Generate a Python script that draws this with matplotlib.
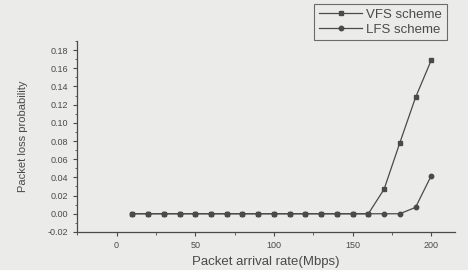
import matplotlib.pyplot as plt
from matplotlib.ticker import MultipleLocator

plt.rcParams['font.family'] = ['Liberation Sans', 'DejaVu Sans']

# data
rate = [10, 20, 30, 40, 50, 60, 70, 80, 90, 100,
        110, 120, 130, 140, 150, 160, 170, 180, 190, 200]
vfs = [0, 0, 0, 0, 0, 0, 0, 0, 0, 0,
       0, 0, 0, 0, 0, 0, 0.027, 0.078, 0.128, 0.169]
lfs = [0, 0, 0, 0, 0, 0, 0, 0, 0, 0,
       0, 0, 0, 0, 0, 0, 0, 0, 0.007, 0.042]

bg = '#ebebe9'
ink = '#4a4a4a'

fig = plt.figure(figsize=(4.68, 2.7), dpi=100, facecolor=bg)
ax = fig.add_axes([0.165, 0.141, 0.807, 0.707], facecolor=bg)

ax.plot(rate, vfs, color=ink, lw=0.9, marker='s', ms=3.4, label='VFS scheme')
ax.plot(rate, lfs, color=ink, lw=0.9, marker='o', ms=3.2, label='LFS scheme')

ax.set_xlim(-25, 215)
ax.set_ylim(-0.02, 0.19)
ax.xaxis.set_major_locator(MultipleLocator(50))
ax.xaxis.set_minor_locator(MultipleLocator(25))
ax.yaxis.set_major_locator(MultipleLocator(0.02))
ax.yaxis.set_minor_locator(MultipleLocator(0.01))
ax.yaxis.set_major_formatter(lambda v, p: f'{v:.2f}')

for s in ['top', 'right']:
    ax.spines[s].set_visible(False)
for s in ['left', 'bottom']:
    ax.spines[s].set_color(ink)
    ax.spines[s].set_linewidth(0.9)

ax.tick_params(which='major', length=3, width=0.8, color=ink, labelcolor=ink, labelsize=6.5)
ax.tick_params(which='minor', length=1.8, width=0.6, color=ink)

ax.set_xlabel('Packet arrival rate(Mbps)', fontsize=9.5, color=ink, labelpad=4)
ax.set_ylabel('Packet loss probability', fontsize=8, color=ink, labelpad=14)

leg = fig.legend(loc='upper right', bbox_to_anchor=(0.955, 0.985), fontsize=9.5,
                 frameon=True, fancybox=False, handlelength=3.3,
                 borderpad=0.35, labelspacing=0.2, handletextpad=0.3,
                 borderaxespad=0)
leg.get_frame().set_facecolor(bg)
leg.get_frame().set_edgecolor(ink)
leg.get_frame().set_linewidth(0.8)
for t in leg.get_texts():
    t.set_color(ink)

fig.savefig('out.png', dpi=100, facecolor=bg)
